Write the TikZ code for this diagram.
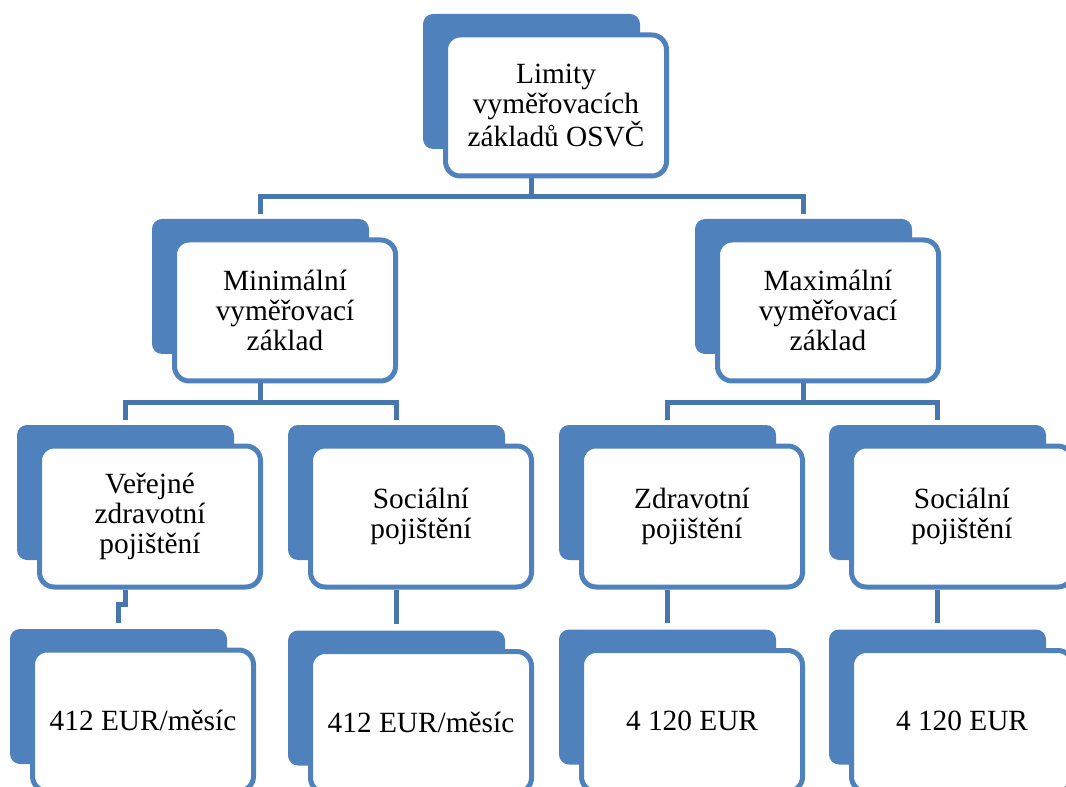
\documentclass[tikz,border=0pt]{standalone}
\usepackage{fontspec}
\setmainfont{Liberation Serif}
\usetikzlibrary{calc}
\definecolor{accent}{HTML}{4F81BD}
\definecolor{linkblue}{HTML}{4877B0}
\tikzset{
  backbox/.style={fill=accent, draw=none, rounded corners=7.5pt,
    minimum width=162.75pt, minimum height=101.25pt, inner sep=0pt},
  frontbox/.style={fill=white, draw=accent, line width=3.75pt, rounded corners=11pt,
    minimum width=165.75pt, minimum height=105.75pt, inner sep=2pt, align=center,
    font=\fontsize{22}{22.8}\selectfont},
  link/.style={draw=linkblue, line width=3.4pt},
  bus/.style={link, shorten <=3.75pt, shorten >=3.75pt},
}
\begin{document}
\begin{tikzpicture}[x=0.75pt,y=-0.75pt]
\useasboundingbox (0,0) rectangle (1066,787);
\clip (0,0) rectangle (1066,787);
% blue backing panels
\node[backbox] (top-b) at (531.5,81.5) {};
\node[backbox] (mina-b) at (260.5,286.5) {};
\node[backbox] (maxa-b) at (803.5,286.5) {};
\node[backbox] (vzp-b) at (125.5,492.5) {};
\node[backbox] (sp1-b) at (396.5,492.5) {};
\node[backbox] (zp-b) at (667.5,492.5) {};
\node[backbox] (sp2-b) at (937.5,492.5) {};
\node[backbox] (v1-b) at (118.5,696.5) {};
\node[backbox] (v2-b) at (396.5,698) {};
\node[backbox] (v3-b) at (667.5,697) {};
\node[backbox] (v4-b) at (937.5,697) {};
% white text boxes
\node[frontbox] (top) at ($(top-b)+(24.5,24)$) {Limity\\vyměřovacích\\základů OSVČ};
\node[frontbox] (mina) at ($(mina-b)+(24.5,24)$) {Minimální\\vyměřovací\\základ};
\node[frontbox] (maxa) at ($(maxa-b)+(24.5,24)$) {Maximální\\vyměřovací\\základ};
\node[frontbox] (vzp) at ($(vzp-b)+(24.5,24)$) {Veřejné\\zdravotní\\pojištění};
\node[frontbox] (sp1) at ($(sp1-b)+(24.5,24)$) {Sociální\\pojištění};
\node[frontbox] (zp) at ($(zp-b)+(24.5,24)$) {Zdravotní\\pojištění};
\node[frontbox] (sp2) at ($(sp2-b)+(24.5,24)$) {Sociální\\pojištění};
\node[frontbox] (v1) at ($(v1-b)+(24.5,24)$) {412 EUR/měsíc};
\node[frontbox] (v2) at ($(v2-b)+(24.5,24)$) {412 EUR/měsíc};
\node[frontbox] (v3) at ($(v3-b)+(24.5,24)$) {4 120 EUR};
\node[frontbox] (v4) at ($(v4-b)+(24.5,24)$) {4 120 EUR};
% level 1 -> level 2
\draw[link] (top-b |- top.south) -- ($(top-b |- top.south)+(0,19)$);
\draw[bus] (mina-b.north) -- ++(0,-22) -| (maxa-b.north);
% level 2 -> level 3
\draw[link] (mina-b |- mina.south) -- ($(mina-b |- mina.south)+(0,19)$);
\draw[bus] (vzp-b.north) -- ++(0,-22) -| (sp1-b.north);
\draw[link] (maxa-b |- maxa.south) -- ($(maxa-b |- maxa.south)+(0,19)$);
\draw[bus] (zp-b.north) -- ++(0,-22) -| (sp2-b.north);
% level 3 -> level 4
\draw[link, shorten >=4.5pt] (vzp-b |- vzp.south) |- ($(v1-b.north)+(0,-24)$) -- (v1-b.north);
\draw[link, shorten >=4.5pt] (sp1-b |- sp1.south) -- (v2-b.north);
\draw[link, shorten >=4.5pt] (zp-b |- zp.south) -- (v3-b.north);
\draw[link, shorten >=4.5pt] (sp2-b |- sp2.south) -- (v4-b.north);
\end{tikzpicture}
\end{document}
